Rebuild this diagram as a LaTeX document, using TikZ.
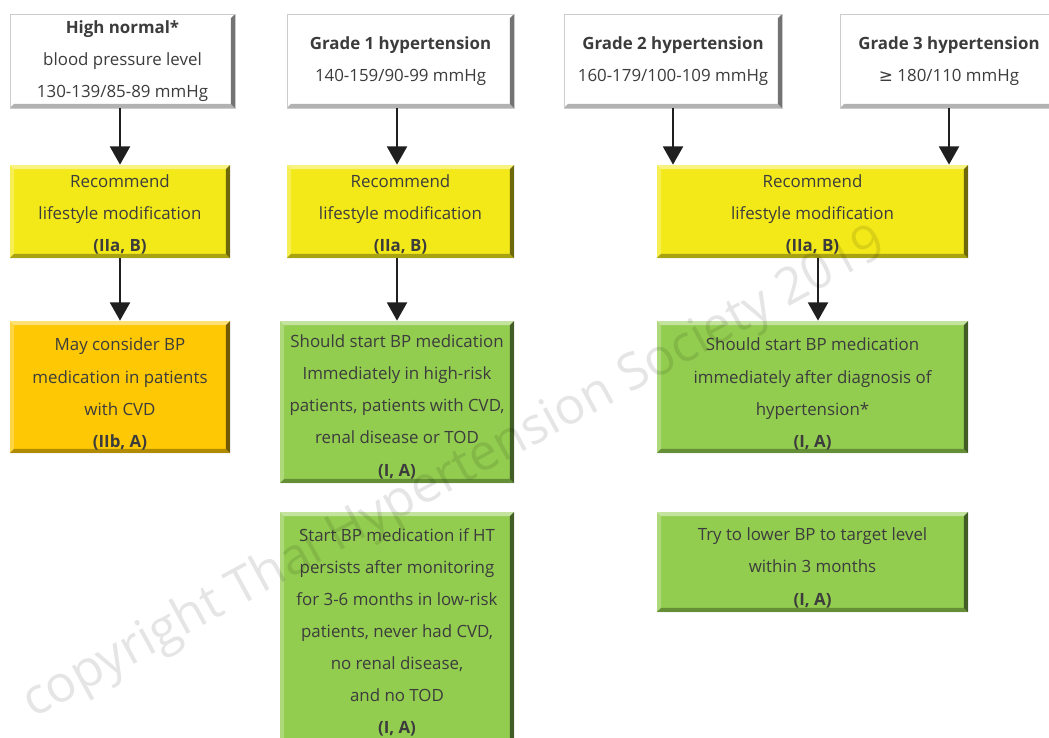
\documentclass[tikz,border=0pt]{standalone}
\usepackage{fontspec}
\setmainfont{Open Sans}
\newfontfamily\symfont{DejaVu Sans}
\usetikzlibrary{arrows.meta}

\definecolor{txtgray}{RGB}{60,60,60}
\definecolor{lifeyellow}{RGB}{243,233,25}
\definecolor{maybeorange}{RGB}{254,200,5}
\definecolor{startgreen}{RGB}{146,205,80}

% strut that pushes the first line of a box down
\newcommand{\gap}[1]{\rule{0pt}{#1}}

\tikzset{
	bevel/.style={path picture={
		\path (path picture bounding box.north west) coordinate (bNW)
		      (path picture bounding box.north east) coordinate (bNE)
		      (path picture bounding box.south east) coordinate (bSE)
		      (path picture bounding box.south west) coordinate (bSW);
		\fill[white,opacity=.45] (bNW) -- (bNE) -- ([shift={(-3pt,-3pt)}]bNE) -- ([shift={(3pt,-3pt)}]bNW) -- cycle;
		\fill[white,opacity=.25] (bNW) -- ([shift={(3pt,-3pt)}]bNW) -- ([shift={(3pt,3pt)}]bSW) -- (bSW) -- cycle;
		\fill[black,opacity=.55] (bNE) -- (bSE) -- ([shift={(-3pt,3pt)}]bSE) -- ([shift={(-3pt,-3pt)}]bNE) -- cycle;
		\fill[black,opacity=.3] (bSW) -- (bSE) -- ([shift={(-3pt,3pt)}]bSE) -- ([shift={(3pt,3pt)}]bSW) -- cycle;
	}},
	box/.style={rectangle, align=center, inner sep=0pt, text=txtgray,
		font=\fontsize{12}{22.8}\selectfont, bevel},
	gradebox/.style={box, fill=white, draw=black!20},
	lifebox/.style={box, fill=lifeyellow},
	maybebox/.style={box, fill=maybeorange},
	startbox/.style={box, fill=startgreen},
	link/.style={line width=2.1pt, draw=black!88, -{Triangle[width=14pt,length=13pt]}},
	watermark/.style={text=black, opacity=.1, font=\fontsize{36}{40}\selectfont}
}

\begin{document}
\begin{tikzpicture}[x=0.025cm, y=-0.025cm]
		%%%%% START %%%%%
		\useasboundingbox (0, 0) rectangle (1049, 737);
		
		% grade boxes
		\node[gradebox, minimum width=5.625cm, minimum height=2.35cm] (hinorm) at (122.5, 61)
			{\textbf{High normal*}\\blood pressure level\\130-139/85-89 mmHg};
		\node[gradebox, minimum width=5.675cm, minimum height=2.35cm] (grade1) at (400.5, 61)
			{\textbf{Grade 1 hypertension}\\140-159/90-99 mmHg};
		\node[gradebox, minimum width=5.45cm, minimum height=2.35cm] (grade2) at (673, 61)
			{\textbf{Grade 2 hypertension}\\160-179/100-109 mmHg};
		\node[gradebox, minimum width=5.45cm, minimum height=2.35cm] (grade3) at (949, 61)
			{\textbf{Grade 3 hypertension}\\{\symfont ≥} 180/110 mmHg};
		
		% lifestyle boxes
		\node[lifebox, minimum width=5.5cm, minimum height=2.325cm] (life1) at (120, 211.5)
			{\gap{13.3pt}Recommend\\lifestyle modification\\\textbf{(IIa, B)}};
		\node[lifebox, minimum width=5.675cm, minimum height=2.325cm] (life2) at (400.5, 211.5)
			{\gap{13.3pt}Recommend\\lifestyle modification\\\textbf{(IIa, B)}};
		\node[lifebox, minimum width=7.775cm, minimum height=2.325cm] (life3) at (812.5, 211.5)
			{\gap{13.3pt}Recommend\\lifestyle modification\\\textbf{(IIa, B)}};
		
		% medication boxes
		\node[maybebox, minimum width=5.5cm, minimum height=3.3cm] (maybe1) at (120, 387)
			{\gap{19pt}May consider BP\\medication in patients\\with CVD\\\textbf{(IIb, A)}};
		\node[startbox, minimum width=5.85cm, minimum height=4.05cm] (start1) at (397, 402)
			{\gap{16pt}Should start BP medication\\Immediately in high-risk\\patients, patients with CVD,\\renal disease or TOD\\\textbf{(I, A)}};
		\node[startbox, minimum width=5.85cm, minimum height=5.875cm] (start2) at (397, 629.5)
			{\gap{13.3pt}Start BP medication if HT\\persists after monitoring\\for 3-6 months in low-risk\\patients, never had CVD,\\no renal disease,\\and no TOD\\\textbf{(I, A)}};
		\node[startbox, minimum width=7.775cm, minimum height=3.3cm] (start3) at (812.5, 387)
			{\gap{19pt}Should start BP medication\\immediately after diagnosis of\\hypertension*\\\textbf{(I, A)}};
		\node[startbox, minimum width=7.775cm, minimum height=2.5cm] (target3) at (812.5, 562)
			{\gap{17.5pt}Try to lower BP to target level\\within 3 months\\\textbf{(I, A)}};
		
		% arrows
		\draw[link] (hinorm.south -| life1.north) -- (life1.north);
		\draw[link] (grade1.south -| start1.north) -- (life2.north -| start1.north);
		\draw[link] (grade2.south) -- (grade2.south |- life3.north);
		\draw[link] (grade3.south) -- (grade3.south |- life3.north);
		\draw[link] (life1.south) -- (maybe1.north);
		\draw[link] (life2.south -| start1.north) -- (start1.north);
		\draw[link] (life3.south -| 818, 0) -- (start3.north -| 818, 0);
		
		% watermark
		\node[watermark, rotate=28.6] (copyr) at (455, 474) {copyright Thai Hypertension Society 2019};
		
		%%%%% END %%%%%
	\end{tikzpicture}
\end{document}
